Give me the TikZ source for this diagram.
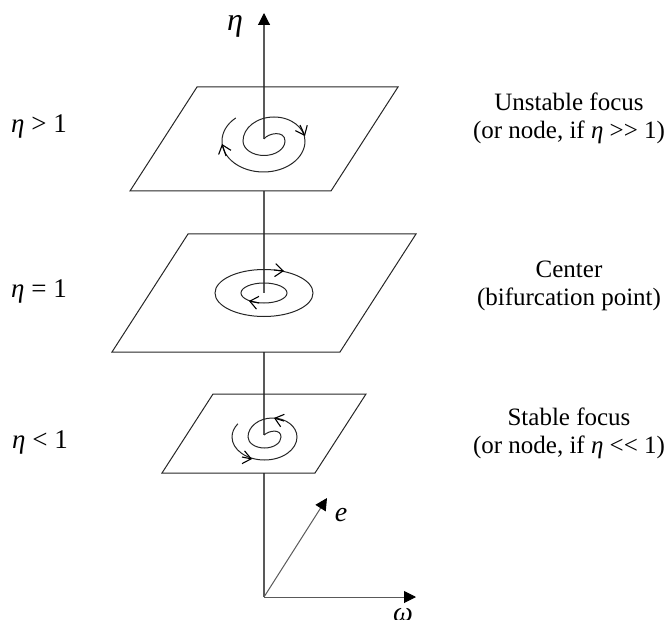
\documentclass[tikz,border=0pt]{standalone}
\usepackage{fontspec}
\setmainfont{Liberation Serif}
\usetikzlibrary{arrows.meta}
\tikzset{
  x=1pt,y=-1pt,
  line/.style={line width=1pt,color=black!85},
  axisline/.style={line width=1.1pt,color=black!65},
  axisarrow/.style={axisline,-{Triangle[length=12pt,width=12pt,color=black]}},
  plane/.style={line width=1pt,draw=black!85},
  barb/.style={line width=1.1pt,color=black,-{Straight Barb[length=8pt,width=13pt]}},
  sym/.style={font=\itshape\fontsize{28}{28}\selectfont,inner sep=0pt},
  cond/.style={font=\fontsize{27}{27}\selectfont,inner sep=0pt,anchor=base west},
  desc/.style={font=\fontsize{25}{28}\selectfont,inner sep=0pt,align=center},
}
\begin{document}
\begin{tikzpicture}
\useasboundingbox (0,0) rectangle (666,620);
\clip (0,0) rectangle (666,620);
% axes
\coordinate (O) at (264,597);
\coordinate (top) at (264,13);
\coordinate (c1) at (264,139);
\coordinate (c2) at (264,293);
\coordinate (c3) at (264,435);
\coordinate (b1) at (264,191);
\coordinate (b2) at (264,352);
\coordinate (b3) at (264,473);
\coordinate (etip) at (327,498);
\coordinate (wtip) at (416,597);
\draw[axisarrow] (c1) -- (top);
\draw[axisline] (b1) -- (c2);
\draw[axisline] (b2) -- (c3);
\draw[axisline] (b3) -- (O);
\draw[axisarrow,line width=1pt] (O) -- (etip);
\draw[axisarrow,line width=1pt] (O) -- (wtip);
% planes
\draw[plane] (197,87) -- (398,87) -- (331,191) -- (130,191) -- cycle;
\draw[plane] (188,234) -- (416,234) -- (340,352) -- (112,352) -- cycle;
\draw[plane] (213,394) -- (366,394) -- (315,473) -- (162,473) -- cycle;
% spirals
\draw[line] (c1) .. controls (268,133) and (285,130) .. (285,141)
  arc[start angle=0,end angle=180,x radius=21,y radius=14.5]
  arc[start angle=180,end angle=360,x radius=31,y radius=24]
  arc[start angle=0,end angle=180,x radius=41.5,y radius=31]
  arc[start angle=180,end angle=228,x radius=41.5,y radius=31];
\draw[barb] (300,125) -- (305,136);
\draw[barb] (226,156) -- (222,144);
\draw[line] (264,293) ellipse[x radius=49,y radius=23.5];
\draw[line] (264,293) ellipse[x radius=23,y radius=10];
\draw[barb] (274,270) -- (284,271);
\draw[barb] (259,303) -- (249,301);
\draw[line] (c3) .. controls (270,430) and (281,429) .. (281,437)
  arc[start angle=0,end angle=180,x radius=16.5,y radius=11]
  arc[start angle=180,end angle=360,x radius=24.5,y radius=19]
  arc[start angle=0,end angle=180,x radius=32.5,y radius=23]
  arc[start angle=180,end angle=215,x radius=32.5,y radius=23];
\draw[barb] (284,421) -- (274,418);
\draw[barb] (242,457) -- (252,459);
% labels
\node[sym,font=\itshape\fontsize{32}{32}\selectfont] (lEta) at (235,26) {η};
\node[sym] (lE) at (341,515) {e};
\node[sym] (lW) at (403,615) {ω};
\node[cond] (c1l) at (11,133) {\textit{η} > 1};
\node[cond] (c2l) at (11,297) {\textit{η} = 1};
\node[cond] (c3l) at (12,448) {\textit{η} < 1};
\node[desc] (d1) at (569,118) {Unstable focus\\(or node, if \textit{η} {>}{>} 1)};
\node[desc] (d2) at (569,286) {Center\\(bifurcation point)};
\node[desc] (d3) at (569,433) {Stable focus\\(or node, if \textit{η} {<}{<} 1)};
\end{tikzpicture}
\end{document}
